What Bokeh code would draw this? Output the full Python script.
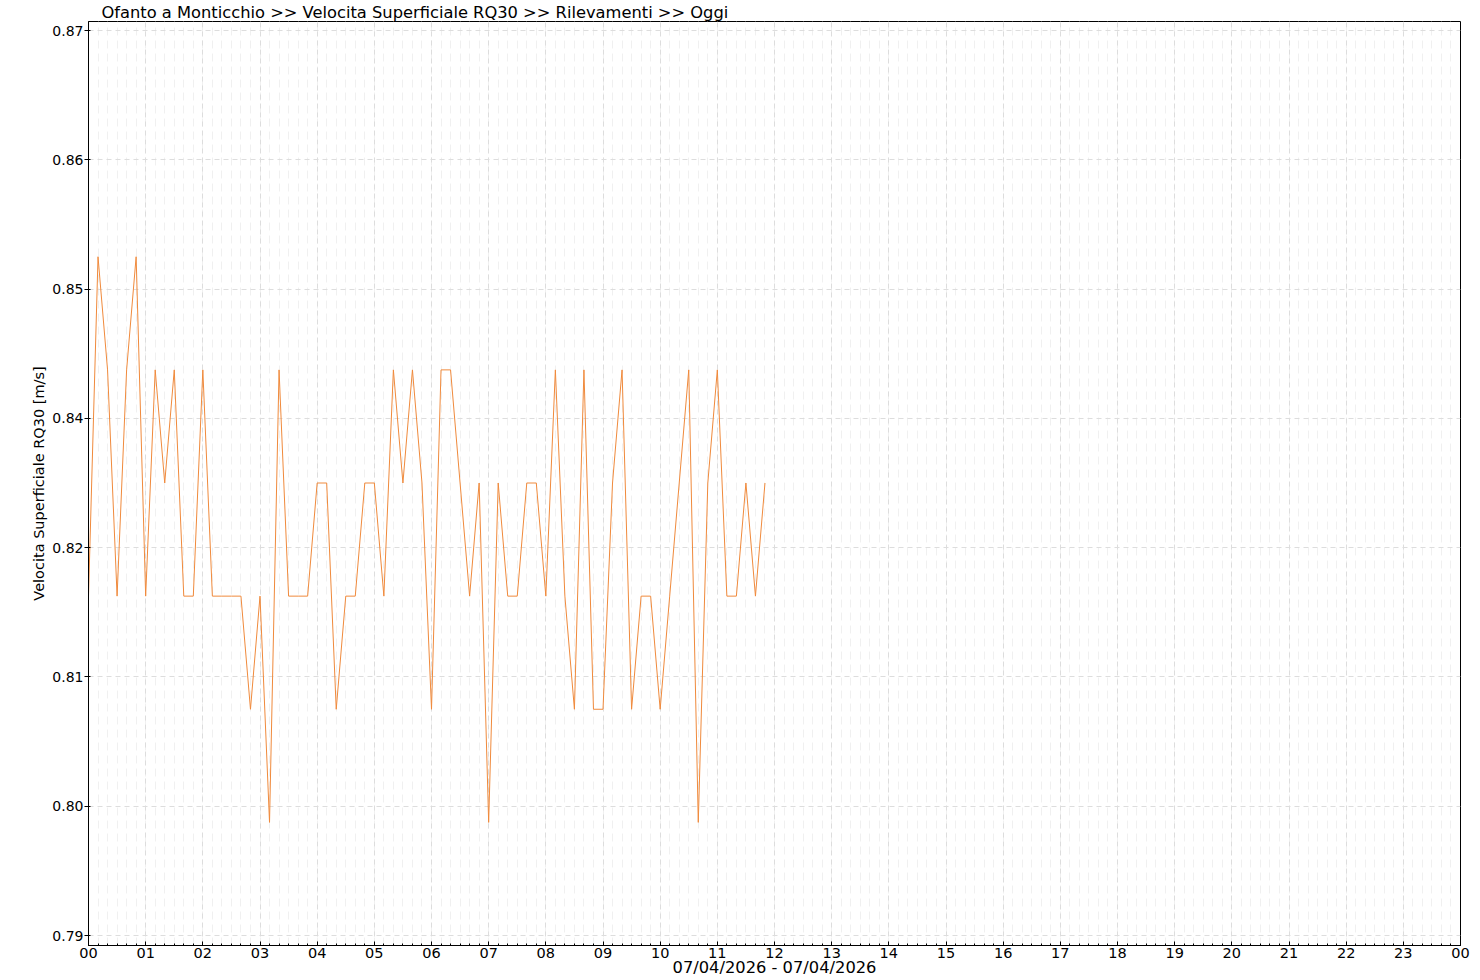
from bokeh.plotting import figure
from bokeh.models import FixedTicker, Range1d
from bokeh.embed import file_html
from bokeh.resources import INLINE

# ---- data ----
title_text = "Ofanto a Monticchio >> Velocita Superficiale RQ30 >> Rilevamenti >> Oggi"
y_label = "Velocita Superficiale RQ30 [m/s]"
date_label = "07/04/2026 - 07/04/2026"

times = [
    "00:00", "00:10", "00:20", "00:30", "00:40", "00:50",
    "01:00", "01:10", "01:20", "01:30", "01:40", "01:50",
    "02:00", "02:10", "02:20", "02:30", "02:40", "02:50",
    "03:00", "03:10", "03:20", "03:30", "03:40", "03:50",
    "04:00", "04:10", "04:20", "04:30", "04:40", "04:50",
    "05:00", "05:10", "05:20", "05:30", "05:40", "05:50",
    "06:00", "06:10", "06:20", "06:30", "06:40", "06:50",
    "07:00", "07:10", "07:20", "07:30", "07:40", "07:50",
    "08:00", "08:10", "08:20", "08:30", "08:40", "08:50",
    "09:00", "09:10", "09:20", "09:30", "09:40", "09:50",
    "10:00", "10:10", "10:20", "10:30", "10:40", "10:50",
    "11:00", "11:10", "11:20", "11:30", "11:40", "11:50",
]
velocity = [
    0.82, 0.85, 0.84, 0.82, 0.84, 0.85,
    0.82, 0.84, 0.83, 0.84, 0.82, 0.82,
    0.84, 0.82, 0.82, 0.82, 0.82, 0.81,
    0.82, 0.80, 0.84, 0.82, 0.82, 0.82,
    0.83, 0.83, 0.81, 0.82, 0.82, 0.83,
    0.83, 0.82, 0.84, 0.83, 0.84, 0.83,
    0.81, 0.84, 0.84, 0.83, 0.82, 0.83,
    0.80, 0.83, 0.82, 0.82, 0.83, 0.83,
    0.82, 0.84, 0.82, 0.81, 0.84, 0.81,
    0.81, 0.83, 0.84, 0.81, 0.82, 0.82,
    0.81, 0.82, 0.83, 0.84, 0.80, 0.83,
    0.84, 0.82, 0.82, 0.83, 0.82, 0.83,
]
hour_labels = ["00", "01", "02", "03", "04", "05", "06", "07", "08", "09", "10", "11",
               "12", "13", "14", "15", "16", "17", "18", "19", "20", "21", "22", "23", "00"]
y_min, y_max, y_intervals = 0.79, 0.87, 7

# ---- derived ----
x_hours = [int(t[:2]) + int(t[3:]) / 60 for t in times]
hour_ticks = list(range(len(hour_labels)))
minor_x = [h / 6 for h in range(6 * (len(hour_labels) - 1) + 1)]
y_ticks = [y_min + k * (y_max - y_min) / y_intervals for k in range(y_intervals + 1)]

px_per_unit = 905 / (y_max - y_min)
y_lo = y_min - 10 / px_per_unit
y_hi = y_max + 9 / px_per_unit

FONT = "DejaVu Sans"
W, H = 1480, 980
FL, FR, FT, FB = 88, 1460, 21, 945  # frame edges

p = figure(width=W, height=H, output_backend="svg", toolbar_location=None,
           x_range=Range1d(0, 24), y_range=Range1d(y_lo, y_hi),
           min_border_left=FL, min_border_right=W - FR, min_border_top=FT, min_border_bottom=H - FB)
p.background_fill_color = "white"
p.border_fill_color = "white"
p.outline_line_color = "black"
p.outline_line_width = 1

# title
p.title.text = title_text
p.title.align = "left"
p.title.offset = 13
p.title.standoff = 0
p.title.text_font = FONT
p.title.text_font_size = "16.3px"
p.title.text_font_style = "normal"
p.title.text_color = "black"

p.line(x_hours, velocity, line_color="#f08a3c", line_width=1)

# x axis
xa = p.xaxis[0]
xa.ticker = FixedTicker(ticks=hour_ticks, minor_ticks=minor_x)
xa.major_label_overrides = {i: lab for i, lab in enumerate(hour_labels)}
xa.major_tick_in = 4
xa.major_tick_out = 0
xa.minor_tick_in = 2
xa.minor_tick_out = 0
xa.major_label_standoff = 2
xa.major_label_text_font = FONT
xa.major_label_text_font_size = "14.5px"
xa.major_label_text_color = "black"
xa.axis_line_color = "black"
xa.axis_label = date_label
xa.axis_label_text_font = FONT
xa.axis_label_text_font_size = "16.3px"
xa.axis_label_text_font_style = "normal"
xa.axis_label_text_color = "black"
xa.axis_label_standoff = -3

# y axis
ya = p.yaxis[0]
ya.ticker = FixedTicker(ticks=y_ticks)
ya.major_label_overrides = {v: f"{v:.2f}" for v in y_ticks}
ya.major_tick_in = 2
ya.major_tick_out = 4
ya.minor_tick_in = 0
ya.minor_tick_out = 0
ya.major_label_standoff = 1
ya.major_label_text_font = FONT
ya.major_label_text_font_size = "14px"
ya.major_label_text_color = "black"
ya.axis_label = y_label
ya.axis_label_text_font = FONT
ya.axis_label_text_font_size = "14.5px"
ya.axis_label_text_font_style = "normal"
ya.axis_label_text_color = "black"
ya.axis_label_standoff = 2
ya.axis_line_color = "black"

# grids
p.xgrid.grid_line_color = "#dddddd"
p.xgrid.grid_line_dash = "5 4"
p.xgrid.minor_grid_line_color = "#f0f0f0"
p.xgrid.minor_grid_line_dash = "8 5"
p.ygrid.grid_line_color = "#dddddd"
p.ygrid.grid_line_dash = "5 4"

open("out.html", "w").write(file_html(p, INLINE))
